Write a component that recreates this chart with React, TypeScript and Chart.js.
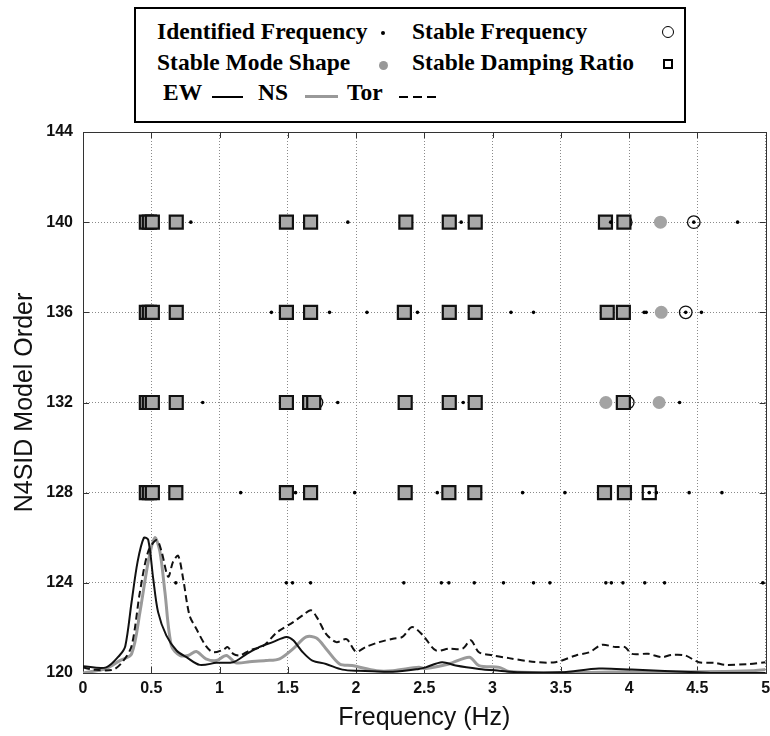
import React, { useEffect, useRef } from 'react';
import { Chart, registerables } from 'chart.js';

Chart.register(...registerables);

// ---------- data ----------
const modelOrders = [140, 136, 132, 128, 124];

// gray squares: stable frequency, damping and mode shape
const stableAllFreqs = [
  [0.464, 0.486, 0.508, 0.683, 1.49, 1.667, 2.365, 2.683, 2.873, 3.827, 3.962],
  [0.464, 0.486, 0.508, 0.683, 1.49, 1.667, 2.354, 2.683, 2.873, 3.84, 3.958],
  [0.464, 0.486, 0.508, 0.683, 1.49, 1.66, 1.69, 2.36, 2.683, 2.873, 3.958],
  [0.464, 0.486, 0.508, 0.68, 1.49, 1.667, 2.36, 2.68, 2.87, 3.82, 3.966],
  [],
];
// open squares: stable damping ratio
const stableDampingFreqs = [[], [], [], [4.148], []];
// gray circles: stable mode shape
const stableModeShapeFreqs = [[4.23], [4.236], [3.83, 4.22], [], []];
// open circles: stable frequency
const stableFreqFreqs = [[3.975, 4.474], [4.415], [1.71, 3.99], [], []];
// small dots: identified frequency
const identifiedFreqs = [
  [0.79, 1.94, 2.77, 3.865, 4.474, 4.795],
  [1.38, 1.806, 2.08, 2.45, 3.135, 3.3, 4.11, 4.125, 4.415, 4.53],
  [0.877, 1.866, 2.785, 4.37],
  [1.155, 1.557, 1.99, 2.595, 3.22, 3.53, 4.148, 4.2, 4.44, 4.68],
  [0.68, 1.49, 1.535, 1.667, 2.35, 2.625, 2.68, 2.866, 3.08, 3.3, 3.42, 3.83, 3.87, 3.955, 4.115, 4.26, 4.98],
];

// spectra (EW, NS, Tor) drawn on the model-order scale
const ewFreq = [0, 0.17, 0.27, 0.31, 0.356, 0.4, 0.446, 0.478, 0.514, 0.55, 0.61, 0.685, 0.758, 0.855, 0.977, 1.1, 1.2, 1.29, 1.39, 1.49, 1.54, 1.61, 1.68, 1.78, 1.9, 2.02, 2.27, 2.46, 2.51, 2.63, 2.73, 2.9, 3.05, 3.2, 3.5, 3.78, 4.02, 4.5, 4.6, 5.0];
const ewLevel = [120.3, 120.25, 120.8, 121.2, 123.15, 124.94, 126.0, 125.9, 124.2, 122.7, 121.67, 121.0, 120.7, 120.36, 120.45, 120.48, 120.85, 121.15, 121.37, 121.6, 121.45, 120.92, 120.55, 120.4, 120.15, 120.1, 120.06, 120.18, 120.25, 120.48, 120.33, 120.18, 120.1, 120.03, 120.03, 120.2, 120.15, 120.03, 120.0, 120.0];

const nsFreq = [0, 0.17, 0.27, 0.356, 0.417, 0.478, 0.526, 0.563, 0.6, 0.648, 0.71, 0.77, 0.83, 0.9, 0.977, 1.05, 1.12, 1.22, 1.34, 1.44, 1.54, 1.635, 1.71, 1.78, 1.88, 1.97, 2.15, 2.27, 2.46, 2.51, 2.68, 2.83, 2.9, 3.05, 3.12, 3.5, 4.0, 4.5, 4.9, 5.0];
const nsLevel = [120.0, 120.2, 120.55, 120.85, 122.7, 124.94, 126.0, 125.4, 123.6, 121.2, 120.78, 120.78, 120.95, 120.63, 120.55, 120.78, 120.45, 120.5, 120.55, 120.63, 121.08, 121.6, 121.55, 121.08, 120.4, 120.33, 120.1, 120.1, 120.25, 120.2, 120.4, 120.7, 120.33, 120.25, 120.07, 120.02, 120.05, 120.05, 120.1, 120.15];

const torFreq = [0, 0.075, 0.22, 0.29, 0.356, 0.417, 0.478, 0.54, 0.575, 0.624, 0.66, 0.697, 0.733, 0.78, 0.83, 0.9, 0.953, 1.03, 1.06, 1.1, 1.15, 1.22, 1.32, 1.42, 1.54, 1.61, 1.67, 1.72, 1.78, 1.855, 1.93, 2.0, 2.07, 2.17, 2.27, 2.34, 2.41, 2.49, 2.585, 2.68, 2.78, 2.84, 2.9, 3.0, 3.12, 3.29, 3.46, 3.61, 3.71, 3.8, 3.9, 3.97, 4.02, 4.14, 4.24, 4.31, 4.41, 4.51, 4.63, 4.7, 4.88, 5.0];
const torLevel = [120.25, 120.15, 120.15, 120.5, 121.2, 123.6, 125.4, 125.9, 125.4, 124.27, 124.94, 125.2, 124.2, 122.56, 121.96, 121.2, 120.92, 121.04, 121.15, 120.85, 120.78, 121.0, 121.2, 121.8, 122.26, 122.56, 122.78, 122.4, 121.74, 121.37, 121.5, 120.95, 121.15, 121.37, 121.52, 121.6, 122.04, 121.67, 121.0, 121.08, 121.08, 121.45, 120.92, 120.78, 120.66, 120.5, 120.48, 120.78, 120.92, 121.25, 121.15, 121.15, 120.85, 120.85, 120.7, 120.8, 120.78, 120.48, 120.45, 120.36, 120.4, 120.48];

const xTickStep = 0.5;
const yTickStep = 4;
const xRange = [0, 5];
const yRange = [120, 144];

// ---------- helpers ----------
function rowsToPoints(rows: number[][]) {
  const pts: { x: number; y: number }[] = [];
  rows.forEach((freqs, i) => freqs.forEach((f) => pts.push({ x: f, y: modelOrders[i] })));
  return pts;
}
function curve(fr: number[], lv: number[]) {
  return fr.map((f, i) => ({ x: f, y: lv[i] }));
}

const framePlugin = {
  id: 'frame',
  beforeDatasetsDraw(chart: any) {
    const { ctx, chartArea: a, scales } = chart;
    ctx.save();
    ctx.strokeStyle = '#333';
    ctx.lineWidth = 1;
    ctx.beginPath();
    const tl = 6;
    for (let v = yRange[0]; v <= yRange[1]; v += yTickStep) {
      const y = Math.round(scales.y.getPixelForValue(v)) + 0.5;
      ctx.moveTo(a.left, y); ctx.lineTo(a.left + tl, y);
      ctx.moveTo(a.right, y); ctx.lineTo(a.right - tl, y);
    }
    for (let v = xRange[0]; v <= xRange[1] + 1e-9; v += xTickStep) {
      const x = Math.round(scales.x.getPixelForValue(v)) + 0.5;
      ctx.moveTo(x, a.bottom); ctx.lineTo(x, a.bottom - tl);
      ctx.moveTo(x, a.top); ctx.lineTo(x, a.top + tl);
    }
    ctx.stroke();
    ctx.strokeRect(Math.round(a.left) + 0.5, Math.round(a.top) + 0.5, Math.round(a.right - a.left), Math.round(a.bottom - a.top));
    ctx.restore();
  },
};

const tickFont = { family: '"Liberation Sans", Arial, sans-serif', size: 16, weight: 'bold' as const };
const titleFont = { family: '"Liberation Sans", Arial, sans-serif', size: 25, weight: 'normal' as const };

const CANVAS_W = 777;

export default function App() {
  const ref = useRef<HTMLCanvasElement | null>(null);

  useEffect(() => {
    if (!ref.current) return;
    const chart = new Chart(ref.current, {
      type: 'scatter',
      data: {
        datasets: [
          {
            label: 'Identified Frequency',
            data: rowsToPoints(identifiedFreqs),
            pointStyle: 'circle',
            pointRadius: 1.8,
            backgroundColor: '#000',
            borderColor: '#000',
            borderWidth: 0,
            order: 1,
          },
          {
            label: 'Stable (all)',
            data: rowsToPoints(stableAllFreqs),
            pointStyle: 'rect',
            pointRadius: 9.2,
            backgroundColor: '#a9a9a9',
            borderColor: '#111',
            borderWidth: 2.2,
            order: 2,
          },
          {
            label: 'Stable Damping Ratio',
            data: rowsToPoints(stableDampingFreqs),
            pointStyle: 'rect',
            pointRadius: 9.2,
            backgroundColor: 'rgba(255,255,255,0)',
            borderColor: '#111',
            borderWidth: 2.2,
            order: 2,
          },
          {
            label: 'Stable Mode Shape',
            data: rowsToPoints(stableModeShapeFreqs),
            pointStyle: 'circle',
            pointRadius: 6.5,
            backgroundColor: '#a3a3a3',
            borderColor: '#a3a3a3',
            borderWidth: 0,
            order: 3,
          },
          {
            label: 'Stable Frequency',
            data: rowsToPoints(stableFreqFreqs),
            pointStyle: 'circle',
            pointRadius: 6.3,
            backgroundColor: 'rgba(255,255,255,0)',
            borderColor: '#111',
            borderWidth: 1.3,
            order: 3,
          },
          {
            label: 'EW',
            data: curve(ewFreq, ewLevel),
            showLine: true,
            pointRadius: 0,
            borderColor: '#111',
            borderWidth: 2,
            tension: 0.3,
            order: 10,
          },
          {
            label: 'NS',
            data: curve(nsFreq, nsLevel),
            showLine: true,
            pointRadius: 0,
            borderColor: '#9a9a9a',
            borderWidth: 3,
            tension: 0.3,
            order: 11,
          },
          {
            label: 'Tor',
            data: curve(torFreq, torLevel),
            showLine: true,
            pointRadius: 0,
            borderColor: '#111',
            borderWidth: 2,
            borderDash: [7, 4],
            tension: 0.3,
            order: 9,
          },
        ],
      },
      options: {
        animation: false,
        responsive: false,
        devicePixelRatio: 1,
        layout: { padding: { left: 0, top: 132, right: 3, bottom: 0 } },
        plugins: { legend: { display: false }, tooltip: { enabled: false } },
        scales: {
          x: {
            type: 'linear',
            min: xRange[0],
            max: xRange[1],
            ticks: {
              stepSize: xTickStep,
              font: tickFont,
              color: '#111',
              padding: 6,
              callback: (v: any) => String(Math.round(Number(v) * 10) / 10),
            },
            grid: { color: '#8a8a8a', lineWidth: 1, drawTicks: false },
            border: { display: false, dash: [1, 2] },
            title: { display: true, text: 'Frequency (Hz)', font: titleFont, color: '#111', padding: { top: 2, bottom: 3 } },
            afterFit(scale: any) {
              scale.height = 63;
              scale.paddingLeft = 0;
              scale.paddingRight = 0;
            },
          },
          y: {
            type: 'linear',
            min: yRange[0],
            max: yRange[1],
            ticks: { stepSize: yTickStep, font: tickFont, color: '#111', padding: 10 },
            grid: { color: '#8a8a8a', lineWidth: 1, drawTicks: false },
            border: { display: false, dash: [1, 2] },
            title: { display: true, text: 'N4SID Model Order', font: titleFont, color: '#111', padding: { top: 10, bottom: 0 } },
            afterFit(scale: any) {
              scale.width = 83;
            },
          },
        },
      },
      plugins: [framePlugin],
    });
    return () => chart.destroy();
  }, []);

  const lf = 'bold 23.5px "Liberation Serif", "Times New Roman", serif';
  const txt = (left: number, top: number): React.CSSProperties => ({
    position: 'absolute', left, top, font: lf, lineHeight: '24px', whiteSpace: 'nowrap', color: '#000',
  });

  return (
    <div style={{ position: 'absolute', left: 0, top: 0, width: 770, height: 736, overflow: 'hidden', background: '#fff' }}>
      <canvas ref={ref} width={CANVAS_W} height={736} style={{ position: 'absolute', left: 0, top: 0, width: CANVAS_W, height: 736 }} />
      <div style={{ position: 'absolute', left: 134, top: 7, width: 552, height: 116, border: '2px solid #000', boxSizing: 'border-box', background: '#fff' }} />
      <span style={txt(157, 19)}>Identified Frequency</span>
      <div style={{ position: 'absolute', left: 381, top: 31, width: 4, height: 4, borderRadius: '50%', background: '#000' }} />
      <span style={txt(412, 19)}>Stable Frequency</span>
      <div style={{ position: 'absolute', left: 662, top: 26, width: 12, height: 12, borderRadius: '50%', border: '1.5px solid #000', boxSizing: 'border-box' }} />
      <span style={txt(157, 50)}>Stable Mode Shape</span>
      <div style={{ position: 'absolute', left: 378.5, top: 60.5, width: 9, height: 9, borderRadius: '50%', background: '#999' }} />
      <span style={txt(412, 50)}>Stable Damping Ratio</span>
      <div style={{ position: 'absolute', left: 663, top: 59, width: 10, height: 10, border: '2px solid #000', boxSizing: 'border-box' }} />
      <span style={txt(163, 80)}>EW</span>
      <div style={{ position: 'absolute', left: 212, top: 95.5, width: 31, height: 2.5, background: '#000' }} />
      <span style={txt(258, 80)}>NS</span>
      <div style={{ position: 'absolute', left: 305, top: 95, width: 33, height: 3, background: '#999' }} />
      <span style={txt(347, 80)}>Tor</span>
      <div style={{ position: 'absolute', left: 399, top: 95.5, width: 9, height: 2.5, background: '#000' }} />
      <div style={{ position: 'absolute', left: 413, top: 95.5, width: 9, height: 2.5, background: '#000' }} />
      <div style={{ position: 'absolute', left: 427, top: 95.5, width: 9, height: 2.5, background: '#000' }} />
    </div>
  );
}
